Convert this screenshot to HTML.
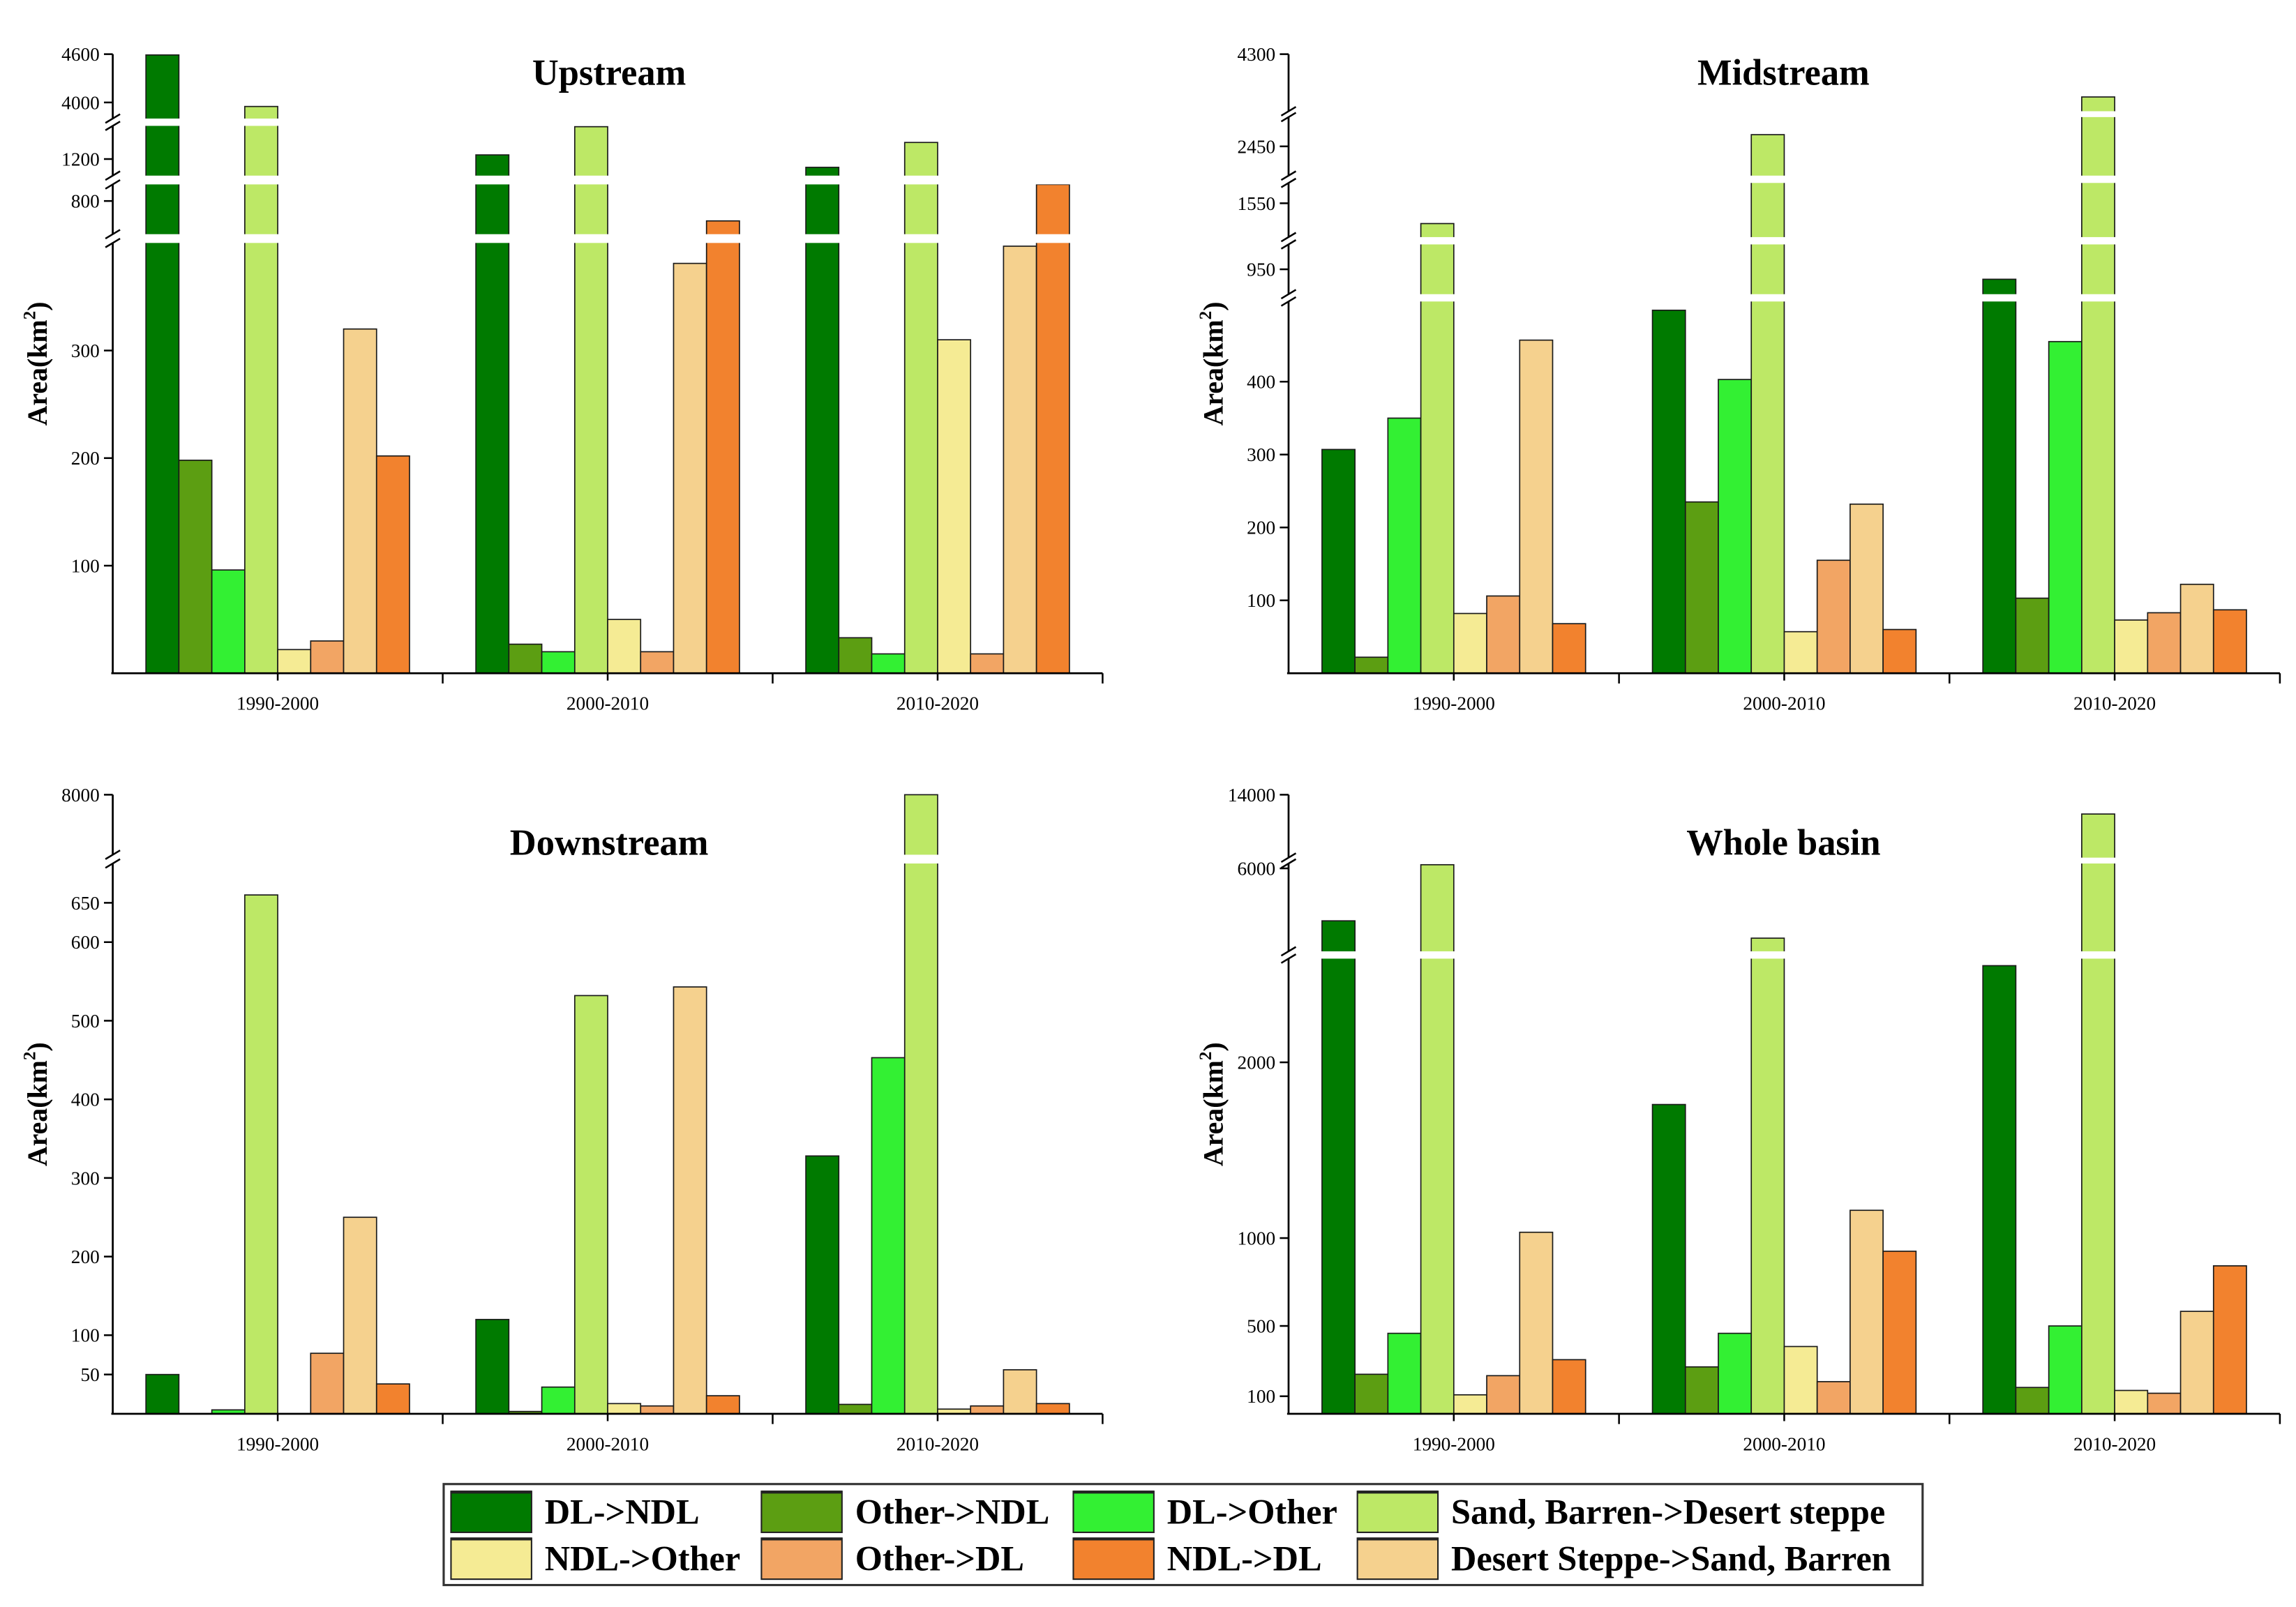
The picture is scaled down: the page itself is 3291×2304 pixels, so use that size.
<!DOCTYPE html>
<html><head><meta charset="utf-8"><style>
html,body{margin:0;padding:0;background:#fff;}
svg{display:block;}
text{font-family:"Liberation Serif",serif;fill:#000;}
</style></head><body>
<svg id="chart" xmlns="http://www.w3.org/2000/svg" width="3291" height="2304" viewBox="0 0 1568 1098" preserveAspectRatio="none">
<rect x="0" y="0" width="1568" height="1098" fill="#fff"/>
<g id="panels"></g>
<g id="legend">
  <rect x="303" y="1014" width="1010" height="69" fill="#fff" stroke="#333" stroke-width="1.5"/>
</g>
</svg>
<script>
const categories = ["1990-2000","2000-2010","2010-2020"];
const seriesNames = ["DL->NDL","Other->NDL","DL->Other","Sand, Barren->Desert steppe","NDL->Other","Other->DL","Desert Steppe->Sand, Barren","NDL->DL"];
const seriesColors = ["#007a00","#5c9e12","#33f033","#bde866","#f5eb94","#f2a564","#f5d18e","#f2822e"];
const upstreamValues = [
  [4590,1250,1100],[198,27,33],[96,20,18],[3950,1590,1400],[22,50,310],[30,20,18],[320,381,397],[202,680,900]];
const midstreamValues = [
  [307,498,910],[22,235,103],[350,403,455],[1400,2530,3775],[82,57,73],[106,155,83],[457,232,122],[68,60,87]];
const downstreamValues = [
  [50,120,328],[0,3,12],[5,34,453],[660,532,8000],[0,13,6],[77,10,10],[250,543,56],[38,23,13]];
const wholeValues = [
  [3850,1760,2550],[225,267,150],[458,458,500],[6150,3140,11700],[108,383,133],[217,183,117],[1033,1158,583],[308,925,842]];
const upstreamTicks = [100,200,300,800,1200,4000,4600];
const midstreamTicks = [100,200,300,400,950,1550,2450,4300];
const downstreamTicks = [50,100,200,300,400,500,600,650,8000];
const wholeTicks = [100,500,1000,2000,6000,14000];

const NS="http://www.w3.org/2000/svg";
function mk(tag, attrs, parent){const e=document.createElementNS(NS,tag);for(const k in attrs)e.setAttribute(k,attrs[k]);if(parent)parent.appendChild(e);return e;}

const panels = [
  {key:"upstream",title:"Upstream",left:77,right:753,bottom:460,tx:416,ty:50,values:upstreamValues,ticks:upstreamTicks,
   segs:[[0,400,460,166],[600,900,160,126],[1000,1600,120,86],[3800,4600,81,37]]},
  {key:"midstream",title:"Midstream",left:880,right:1557,bottom:460,tx:1218,ty:50,values:midstreamValues,ticks:midstreamTicks,
   segs:[[0,510,460,206],[850,1050,201,167],[1300,1700,162,125],[2250,2650,120,80],[3600,4300,76,37]]},
  {key:"downstream",title:"Downstream",left:77,right:753,bottom:966,tx:416,ty:576,values:downstreamValues,ticks:downstreamTicks,
   segs:[[0,700,966,590],[7000,8000,584,543]]},
  {key:"whole-basin",title:"Whole basin",left:880,right:1557,bottom:966,tx:1218,ty:576,values:wholeValues,ticks:wholeTicks,
   segs:[[0,2590,966,655],[2600,6200,650,590],[6500,14000,586,543]]}
];

function yScale(p,v){
  const s=p.segs;
  for(let i=0;i<s.length;i++){
    const [v0,v1,y0,y1]=s[i];
    if(v<=v1 || i===s.length-1){
      if(v<v0) return y0;
      return y0+(v-v0)/(v1-v0)*(y1-y0);
    }
  }
}

const root=document.getElementById('panels');
panels.forEach(p=>{
  const g=mk('g',{},root);
  
  
  const w=(p.right-p.left)/3;
  const bw=22.5;
  categories.forEach((c,ci)=>{
    const cx=p.left+w*(ci+0.5);
    const x0=cx-bw*4;
    p.values.forEach((vals,si)=>{
      const v=vals[ci];
      if(v<=0) return;
      const y=yScale(p,v);
      const r=mk('rect',{x:x0+si*bw,y:y,width:bw,height:p.bottom-y,fill:seriesColors[si],stroke:"#1a1a1a","stroke-width":0.8},g);
      
      
    });
    const lab=mk('text',{x:cx,y:p.bottom+25,"font-size":13,"text-anchor":"middle"},g);
    lab.textContent=c;
    
    
    mk('line',{x1:cx,y1:p.bottom,x2:cx,y2:p.bottom+5,stroke:"#000","stroke-width":1.2},g);
    if(ci>0) mk('line',{x1:p.left+w*ci,y1:p.bottom,x2:p.left+w*ci,y2:p.bottom+7,stroke:"#000","stroke-width":1.2},g);
  });
  mk('line',{x1:p.right,y1:p.bottom,x2:p.right,y2:p.bottom+7,stroke:"#000","stroke-width":1.2},g);
  const topY=p.segs[p.segs.length-1][3];
  mk('line',{x1:p.left,y1:topY,x2:p.left,y2:p.bottom,stroke:"#000","stroke-width":1.3},g);
  const xa=mk('line',{x1:p.left-1,y1:p.bottom,x2:p.right,y2:p.bottom,stroke:"#000","stroke-width":1.3},g);
  
  
  for(let i=0;i<p.segs.length-1;i++){
    const yb=p.segs[i][3], yt=p.segs[i+1][2];
    const ym=(yb+yt)/2, hh=Math.max(yb-yt,3);
    mk('rect',{x:p.left-3,y:ym-hh/2,width:p.right-p.left+3,height:hh,fill:"#fff"},g);
    mk('line',{x1:p.left-5,y1:yb+3,x2:p.left+5,y2:yb-3,stroke:"#000","stroke-width":1.2},g);
    mk('line',{x1:p.left-5,y1:yt+3,x2:p.left+5,y2:yt-3,stroke:"#000","stroke-width":1.2},g);
  }
  p.ticks.forEach(t=>{
    const y=yScale(p,t);
    mk('line',{x1:p.left-6,y1:y,x2:p.left,y2:y,stroke:"#000","stroke-width":1.2},g);
    const tl=mk('text',{x:p.left-9,y:y+4.5,"font-size":13,"text-anchor":"end"},g);
    tl.textContent=t;
    
    
  });
  const tt=mk('text',{x:p.tx,y:p.ty+8,"font-size":25,"font-weight":"bold","text-anchor":"middle"},g);
  tt.textContent=p.title;
  
  
  const ycx=p.left-45, ycy=(p.bottom+topY)/2;
  const yt=mk('text',{x:0,y:0,"font-size":19,"font-weight":"bold","text-anchor":"middle",transform:`translate(${ycx},${ycy}) rotate(-90)`},g);
  yt.innerHTML='Area(km<tspan font-size="12" dy="-8">2</tspan><tspan dy="8">)</tspan>';
  
  
});

const leg=document.getElementById('legend');
const legPos=[[308,1019],[520,1019],[733,1019],[927,1019],[308,1051],[520,1051],[733,1051],[927,1051]];
const legOrder=[0,1,2,3,4,5,7,6];
legOrder.forEach((si,i)=>{
  const [x,y]=legPos[i];
  const e=mk('g',{},leg);
  
  
  mk('rect',{x:x,y:y,width:55,height:28,fill:seriesColors[si],stroke:"#222","stroke-width":1},e);
  mk('line',{x1:x,y1:y+0.5,x2:x+55,y2:y+0.5,stroke:"#222","stroke-width":2},e);
  const t=mk('text',{x:x+64,y:y+22,"font-size":24,"font-weight":"bold"},e);
  t.textContent=seriesNames[si];
});
</script>
</body></html>
